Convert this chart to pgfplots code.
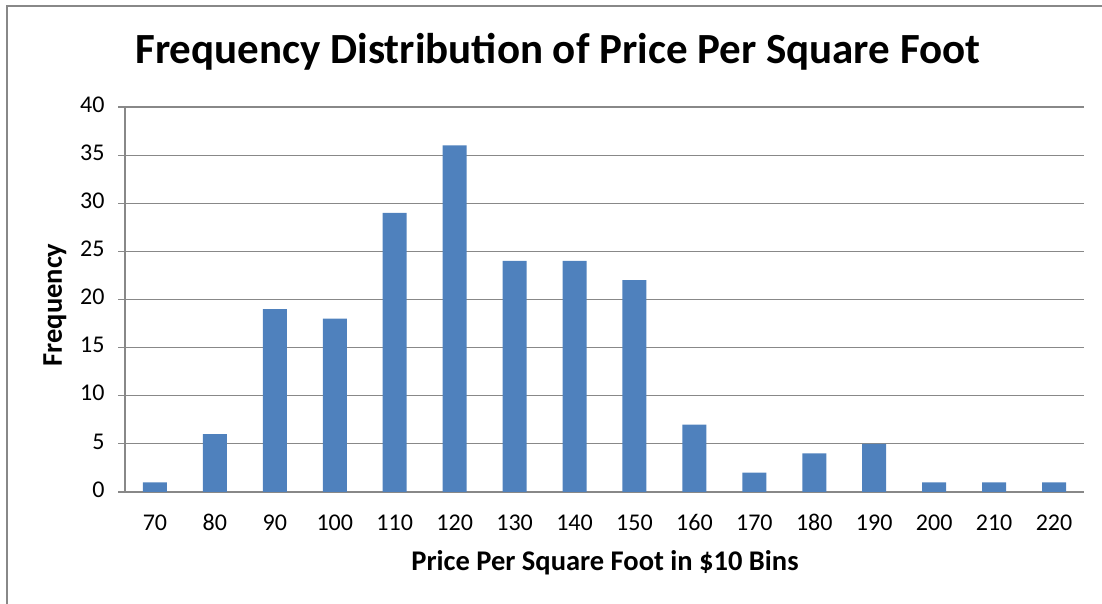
\documentclass[border=0pt]{standalone}
\usepackage{pgfplots}
\pgfplotsset{compat=1.18}
\usepackage{fontspec}
\setmainfont{Carlito}
\definecolor{barblue}{HTML}{4F81BD}
\definecolor{gridgray}{HTML}{888888}
\begin{document}
\begin{tikzpicture}[x=1pt,y=1pt]
\path[use as bounding box] (0pt,0pt) rectangle (1102pt,604pt);
\draw[gridgray, line width=1.6pt] (7pt,0pt) -- (7pt,598pt) -- (1102pt,598pt);
\begin{axis}[
  at={(125pt,112pt)}, anchor=south west,
  scale only axis, width=959pt, height=385pt,
  xmin=-0.5, xmax=15.5, ymin=0, ymax=40,
  ytick={0,5,...,40},
  xtick={0,...,15},
  xticklabels={70,80,90,100,110,120,130,140,150,160,170,180,190,200,210,220},
  axis x line*=bottom, axis y line*=left,
  axis line style={gridgray, line width=1.3pt, -},
  ymajorgrids, grid style={gridgray, line width=1.1pt},
  tick align=outside, major tick length=7pt,
  xtick style={draw=none},
  ytick style={gridgray, line width=1.1pt},
  typeset ticklabels with strut,
  tick label style={font=\fontsize{24}{26}\selectfont, text=black},
  xticklabel style={yshift=-10pt},
  yticklabel style={xshift=-10pt},
  /pgf/number format/assume math mode=true,
  ybar, bar width=24pt,
]
\addplot[fill=barblue, draw=none] coordinates {
(0,1) (1,6) (2,19) (3,18) (4,29) (5,36) (6,24) (7,24) (8,22) (9,7) (10,2) (11,4) (12,5) (13,1) (14,1) (15,1)
};
\end{axis}
\node[font=\bfseries\fontsize{43}{46}\selectfont] at (558pt,552pt) {Frequency Distribution of Price Per Square Foot};
\node[font=\bfseries\fontsize{28.5}{30}\selectfont] at (605pt,41pt) {Price Per Square Foot in \$10 Bins};
\node[font=\bfseries\fontsize{28.5}{30}\selectfont, rotate=90] at (55pt,299pt) {Frequency};
\end{tikzpicture}
\end{document}
